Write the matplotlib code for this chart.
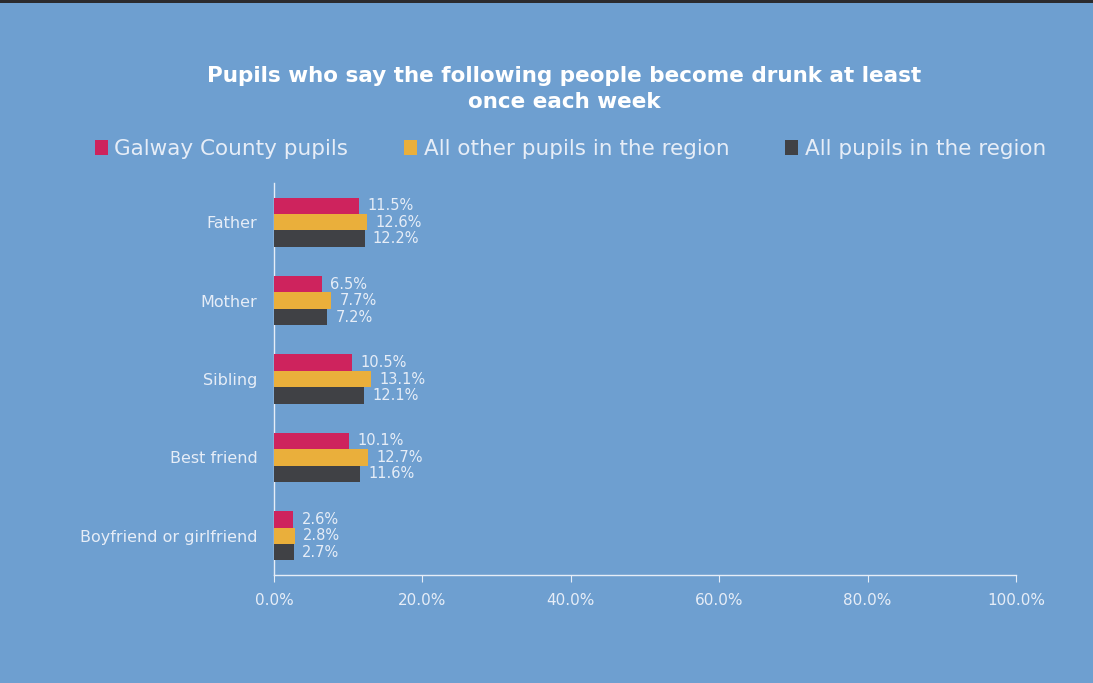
import matplotlib
matplotlib.use("Agg")
import matplotlib.pyplot as plt
import numpy as np
from matplotlib.patches import Rectangle

categories = ["Father", "Mother", "Sibling", "Best friend", "Boyfriend or girlfriend"]
series_names = ["Galway County pupils", "All other pupils in the region", "All pupils in the region"]
galway = [11.5, 6.5, 10.5, 10.1, 2.6]
other = [12.6, 7.7, 13.1, 12.7, 2.8]
allp = [12.2, 7.2, 12.1, 11.6, 2.7]
xticks = [0, 20, 40, 60, 80, 100]

colors = ["#CE235D", "#EAAF3B", "#404145"]
bg = "#6E9FD0"
txt = "#E6EDF7"

plt.rcParams['font.family'] = ['DejaVu Sans']

fig = plt.figure(figsize=(10.93, 6.83), dpi=100, facecolor=bg)
fig.patches.append(Rectangle((0, 1 - 3/683), 1, 3/683, transform=fig.transFigure,
                             facecolor="#2B2B2E", edgecolor="none", zorder=10))
ax = fig.add_axes([274/1093, 1 - 575/683, (1016 - 274)/1093, (575 - 183)/683])
ax.set_facecolor(bg)

y = np.arange(len(categories))
h = 0.21
for i, (vals, c) in enumerate(zip([galway, other, allp], colors)):
    pos = y + (i - 1) * h
    ax.barh(pos, vals, height=h, color=c, label=series_names[i], zorder=3)
    for p, v in zip(pos, vals):
        ax.text(v + 1.1, p, f"{v:.1f}%", va="center", ha="left", color=txt, fontsize=10.5)

ax.set_xlim(0, 100)
ax.set_ylim(len(categories) - 0.5, -0.5)
ax.set_yticks(y)
ax.set_yticklabels(categories, color=txt, fontsize=11.5)
ax.set_xticks(xticks)
ax.set_xticklabels([f"{t:.1f}%" for t in xticks], color=txt, fontsize=11)
ax.tick_params(axis='y', length=0, pad=12)
ax.tick_params(axis='x', length=5, color="#E6EDF7", pad=8)
for s in ["top", "right"]:
    ax.spines[s].set_visible(False)
ax.spines["left"].set_color("#E6EDF7")
ax.spines["bottom"].set_color("#E6EDF7")
ax.spines["left"].set_linewidth(1)
ax.spines["bottom"].set_linewidth(1)

fig.text(0.516, 1 - 89/683, "Pupils who say the following people become drunk at least\nonce each week",
         ha="center", va="center", color="white", fontsize=15.5, fontweight="bold", linespacing=1.35)

handles = [Rectangle((0, 0), 1, 1, facecolor=c) for c in colors]
leg = fig.legend(handles, series_names, loc="center", bbox_to_anchor=(0.522, 1 - 149/683),
                 ncol=3, frameon=False, fontsize=15.5, handlelength=0.6, handleheight=0.7,
                 handletextpad=0.3, columnspacing=2.6, labelcolor=txt)

fig.savefig("out.png", dpi=100, facecolor=bg)
